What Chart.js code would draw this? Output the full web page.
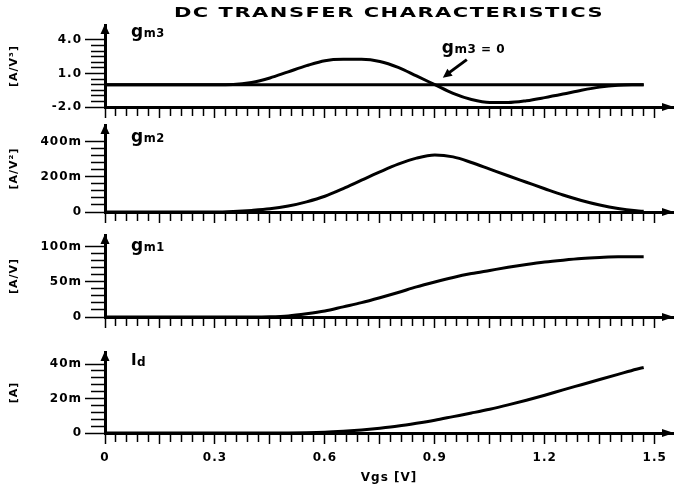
<!DOCTYPE html>
<html><head><meta charset="utf-8">
<script src="https://cdn.jsdelivr.net/npm/chart.js@4/dist/chart.umd.min.js"></script>
<style>
html,body{margin:0;padding:0;background:#fff;}
#wrap{position:relative;width:676px;height:487px;overflow:hidden;background:#fff;}
canvas{position:absolute;left:0;}
</style></head><body>
<div id="wrap">
<canvas id="c1" width="676" height="119" style="top:0px"></canvas>
<canvas id="c2" width="676" height="105" style="top:119px"></canvas>
<canvas id="c3" width="676" height="105" style="top:224px"></canvas>
<canvas id="c4" width="676" height="158" style="top:329px"></canvas>
</div>
<script>
// ---- text ----
const TITLE = 'DC TRANSFER CHARACTERISTICS';
const X_TITLE = 'Vgs [V]';
const ZERO_NOTE = ['g', 'm3 = 0'];

// ---- data ----
const vgs = [0,0.05,0.1,0.15,0.2,0.25,0.3,0.35,0.4,0.45,0.5,0.55,0.6,0.65,0.7,0.75,0.8,0.85,0.9,0.95,1.0,1.05,1.1,1.15,1.2,1.25,1.3,1.35,1.4,1.45,1.47];
// gm3 [A/V^3]
const gm3 = [0,0,0,0,0,0,0,0.02,0.2,0.6,1.15,1.7,2.15,2.27,2.27,2.08,1.55,0.78,0,-0.78,-1.33,-1.6,-1.6,-1.44,-1.16,-0.84,-0.5,-0.22,-0.06,-0.01,0];
// gm2 [mA/V^2]
const gm2 = [0,0,0,0,0,0,0,3,9,18,34,58,90,134,182,229,273,308,326,315,283,245,207,170,133,97,66,40,20,7,4];
// gm1 [mA/V]
const gm1 = [0,0,0,0,0,0,0,0,0,0.3,1.5,4.5,8.5,14.5,20.5,27.5,35,43,50,56.5,62,66.5,71,75,78.5,81.2,83.5,85,86,86,86];
// Id [mA]
const idrain = [0,0,0,0,0,0,0,0,0,0,0,0.1,0.4,1.0,1.8,2.8,4.0,5.6,7.4,9.5,11.6,13.8,16.3,19.0,21.9,25,28,31,34,37,38];

// ---- tick labels ----
const xTickValues = [0,0.3,0.6,0.9,1.2,1.5];
const xTickLabels = ['0','0.3','0.6','0.9','1.2','1.5'];
const gm3TickValues = [-2,1,4];
const gm3TickLabels = ['-2.0','1.0','4.0'];
const gm2TickValues = [0,200,400];
const gm2TickLabels = ['0','200m','400m'];
const gm1TickValues = [0,50,100];
const gm1TickLabels = ['0','50m','100m'];
const idTickValues = [0,20,40];
const idTickLabels = ['0','20m','40m'];

const FONT = 'DejaVu Sans';

const panels = [
  {el:'c1', data:gm3, unit:'[A/V\u00B3]', main:'g', sub:'m3', min:-2, max:5.343, step:0.5,
   tv:gm3TickValues, tl:gm3TickLabels, padTop:25, xH:12, labelDy:12, zero:true, title:true, xLabels:false},
  {el:'c2', data:gm2, unit:'[A/V\u00B2]', main:'g', sub:'m2', min:0, max:497.1, step:40,
   tv:gm2TickValues, tl:gm2TickLabels, padTop:6, xH:12, labelDy:17, xLabels:false},
  {el:'c3', data:gm1, unit:'[A/V]', main:'g', sub:'m1', min:0, max:117.1, step:10,
   tv:gm1TickValues, tl:gm1TickLabels, padTop:11, xH:12, labelDy:16, xLabels:false},
  {el:'c4', data:idrain, unit:'[A]', main:'I', sub:'d', min:0, max:46.96, step:4,
   tv:idTickValues, tl:idTickLabels, padTop:23, xH:54, labelDy:13, xLabels:true, mainSize:15, subSize:12, subDy:1}
];

const near = (a,b) => Math.abs(a-b) < 1e-6;

const decor = {
  id:'decor',
  beforeDraw(chart){ chart.ctx.letterSpacing = '1px'; },
  afterDraw(chart, args, opts){
    const ctx = chart.ctx, ca = chart.chartArea;
    const p = opts.panel;
    ctx.save();
    ctx.fillStyle = '#000'; ctx.strokeStyle = '#000';
    // y axis arrow
    ctx.beginPath();
    ctx.moveTo(ca.left, ca.top - 1);
    ctx.lineTo(ca.left - 4.5, ca.top + 9);
    ctx.lineTo(ca.left + 4.5, ca.top + 9);
    ctx.closePath(); ctx.fill();
    // x axis arrow
    ctx.beginPath();
    ctx.moveTo(ca.right + 1, ca.bottom);
    ctx.lineTo(ca.right - 11, ca.bottom - 4);
    ctx.lineTo(ca.right - 11, ca.bottom + 4);
    ctx.closePath(); ctx.fill();
    // panel label
    ctx.textBaseline = 'alphabetic'; ctx.textAlign = 'left';
    ctx.letterSpacing = '0px';
    const lx = ca.left + 26, ly = ca.top + p.labelDy;
    ctx.font = 'bold ' + (p.mainSize || 17) + 'px ' + FONT;
    ctx.fillText(p.main, lx, ly);
    const w = ctx.measureText(p.main).width;
    ctx.font = 'bold ' + (p.subSize || 11.5) + 'px ' + FONT;
    ctx.letterSpacing = '0.5px';
    ctx.fillText(p.sub, lx + w + 0.5, ly + (p.subDy || 0));
    if (p.title) {
      ctx.save();
      ctx.translate((ca.left + ca.right) / 2, 17);
      ctx.scale(1.5, 1);
      ctx.font = 'bold 14px ' + FONT;
      ctx.letterSpacing = '1px';
      ctx.textAlign = 'center';
      ctx.fillText(TITLE, 0, 0);
      ctx.restore();
    }
    if (p.zero) {
      const xs = chart.scales.x, ys = chart.scales.y;
      const cx = xs.getPixelForValue(0.9), cy = ys.getPixelForValue(0);
      const tip = [cx + 8, cy - 7], tail = [cx + 32, cy - 25];
      ctx.lineWidth = 3;
      ctx.beginPath(); ctx.moveTo(tail[0], tail[1]); ctx.lineTo(tip[0] + 5, tip[1] - 4); ctx.stroke();
      const ang = Math.atan2(tip[1] - tail[1], tip[0] - tail[0]);
      ctx.beginPath();
      ctx.moveTo(tip[0], tip[1]);
      ctx.lineTo(tip[0] - 10*Math.cos(ang - 0.45), tip[1] - 10*Math.sin(ang - 0.45));
      ctx.lineTo(tip[0] - 10*Math.cos(ang + 0.45), tip[1] - 10*Math.sin(ang + 0.45));
      ctx.closePath(); ctx.fill();
      const tx = cx + 7, ty = cy - 32;
      ctx.letterSpacing = '0px';
      ctx.font = 'bold 17px ' + FONT;
      ctx.fillText(ZERO_NOTE[0], tx, ty);
      const gw = ctx.measureText(ZERO_NOTE[0]).width;
      ctx.font = 'bold 12px ' + FONT;
      ctx.letterSpacing = '0.5px';
      ctx.fillText(ZERO_NOTE[1], tx + gw + 0.5, ty);
    }
    ctx.restore();
  },
  afterRender(chart){ chart.ctx.letterSpacing = '0px'; }
};

const xMinor = [];
for (let i = 0; i <= 50; i++) xMinor.push(Math.round(i * 3) / 100);

panels.forEach(p => {
  const yMinor = [];
  const top = p.tv[p.tv.length - 1];
  const n = Math.round((top - p.min) / p.step);
  for (let i = 0; i <= n; i++) yMinor.push(p.min + i * p.step);

  const datasets = [{
    data: vgs.map((x, i) => ({x: x, y: p.data[i]})),
    borderColor: '#000', borderWidth: 3, pointRadius: 0,
    cubicInterpolationMode: 'monotone', fill: false
  }];
  if (p.zero) {
    datasets.unshift({
      data: vgs.map(x => ({x: x, y: 0})),
      borderColor: '#000', borderWidth: 3, pointRadius: 0, fill: false
    });
  }

  new Chart(document.getElementById(p.el), {
    type: 'line',
    data: { datasets },
    options: {
      responsive: false, animation: false, events: [],
      layout: { padding: { top: p.padTop, right: 3, left: 0, bottom: 0 } },
      plugins: { legend: {display: false}, tooltip: {enabled: false}, title: {display: false}, decor: {panel: p} },
      scales: {
        x: {
          type: 'linear', min: 0, max: 1.55,
          afterBuildTicks: s => { s.ticks = xMinor.map(v => ({value: v})); },
          afterFit: s => { s.height = p.xH; s.paddingLeft = 0; s.paddingRight = 0; },
          grid: {
            drawOnChartArea: false, drawTicks: true, tickLength: 11, tickWidth: 1.5, tickColor: '#000',
            tickBorderDash: c => (c.index % 5 === 0 ? [] : [7, 30])
          },
          border: { color: '#000', width: 3 },
          ticks: {
            display: p.xLabels, autoSkip: false, maxRotation: 0, minRotation: 0, padding: 7, color: '#000',
            font: { family: FONT, weight: 'bold', size: 12 },
            callback: (v) => { const k = xTickValues.findIndex(t => near(t, v)); return k >= 0 ? xTickLabels[k] : ''; }
          },
          title: { display: p.xLabels, text: X_TITLE, color: '#000',
                   font: { family: FONT, weight: 'bold', size: 12 }, padding: { top: 0, bottom: 2 } }
        },
        y: {
          type: 'linear', min: p.min, max: p.max,
          afterBuildTicks: s => { s.ticks = yMinor.map(v => ({value: v})); },
          afterFit: s => { s.width = 105; s.paddingTop = 0; s.paddingBottom = 0; },
          grid: {
            drawOnChartArea: false, drawTicks: true, tickLength: 20, tickWidth: 1.5, tickColor: '#000',
            tickBorderDash: c => (p.tv.some(t => near(t, c.tick.value)) ? [] : [0, 6, 14, 100])
          },
          border: { color: '#000', width: 3 },
          ticks: {
            autoSkip: false, padding: 3, color: '#000',
            font: { family: FONT, weight: 'bold', size: 12 },
            callback: (v) => { const k = p.tv.findIndex(t => near(t, v)); return k >= 0 ? p.tl[k] : ''; }
          },
          title: { display: true, text: p.unit, color: '#000',
                   font: { family: FONT, weight: 'bold', size: 11 }, padding: { top: 8, bottom: 0 } }
        }
      }
    },
    plugins: [decor]
  });
});
</script>
</body></html>
